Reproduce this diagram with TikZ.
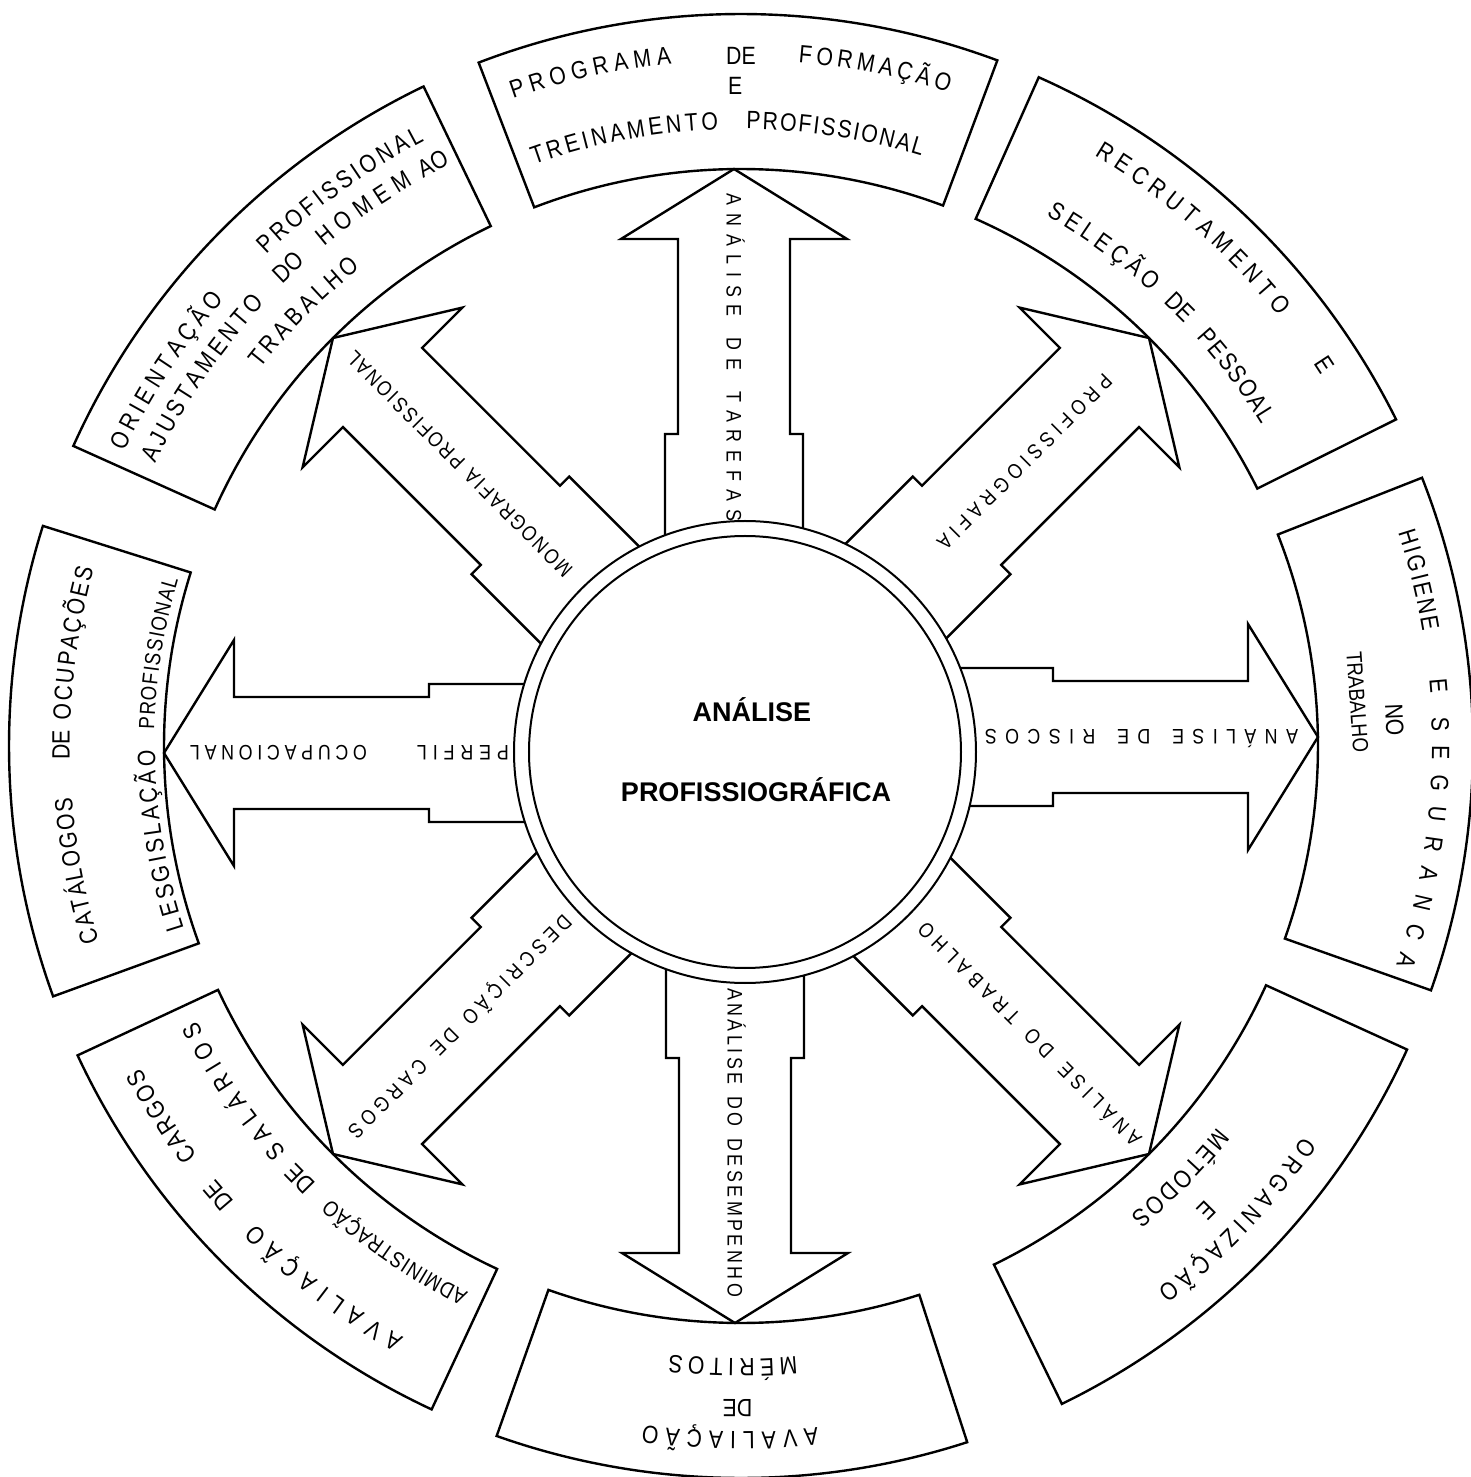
\documentclass[tikz,border=0pt]{standalone}
\usepackage{fontspec}
\usetikzlibrary{calc,decorations.text}

\newfontfamily\fonteletras[FakeStretch=0.85]{Liberation Sans}
\newfontfamily\fontecentral{Liberation Sans}
\newcommand\fonteanel{\fonteletras\fontsize{12.5pt}{14pt}\selectfont}
\newcommand\fonteanelm{\fonteletras\fontsize{11pt}{13pt}\selectfont}
\newcommand\fonteseta{\fonteletras\fontsize{10.5pt}{12pt}\selectfont}
\newcommand\fontecentro{\fontecentral\bfseries\fontsize{13.5pt}{16pt}\selectfont}

\begin{document}
\begin{tikzpicture}[
    x=0.5pt, y=0.5pt,
    linha/.style={line width=1.2pt, line join=miter},
    circulo/.style={line width=1pt},
    textoarco/.style={decorate, decoration={text along path, text={|\fonteanel|#1}, text align={fit to path}}},
    textoarcom/.style={decorate, decoration={text along path, text={|\fonteanelm|#1}, text align={fit to path}}},
    textoseta/.style={decorate, decoration={text along path, text={|\fonteseta|#1}, text align={fit to path}}},
    palavra/.style={font=\fonteanel, inner sep=0pt},
    seta/.pic={
        \draw[linha] (200,-69) -- (312,-69) -- (312,-56) -- (507,-56) -- (507,-113)
            -- (577,0) -- (507,113) -- (507,56) -- (312,56) -- (312,69) -- (200,69);
    }
]
\useasboundingbox (-741,-731) rectangle (730,746);
\coordinate (O) at (0,0);   % 圆环中心
\coordinate (C) at (4,-6);  % 中心圆

% ========== 八个箭头 ==========
\pic[shift={(-7,0)}, rotate=90] {seta};
\pic[rotate=45] {seta};
\pic[shift={(0,9)}, rotate=0] {seta};
\pic[rotate=-45] {seta};
\pic[shift={(-6,0)}, rotate=-90] {seta};
\pic[rotate=-135] {seta};
\pic[shift={(0,-7)}, rotate=180] {seta};
\pic[rotate=135] {seta};

% ========== 中心双圆 ==========
\fill[white] (C) circle (231);
\draw[circulo] (C) circle (231);
\draw[circulo] (C) circle (216);
\node[font=\fontecentro] (tit1) at (11,36) {ANÁLISE};
\node[font=\fontecentro] (tit2) at (15,-44) {PROFISSIOGRÁFICA};

% ========== 外圈：八个扇形框 ==========
\draw[linha] (69.5:577) arc[start angle=69.5, end angle=111, radius=577] -- (111:732) arc[start angle=111, end angle=69.5, radius=732] -- cycle; % 上
\draw[linha] (26.5:577) arc[start angle=26.5, end angle=66, radius=577] -- (66:732) arc[start angle=66, end angle=26.5, radius=732] -- cycle; % 右上
\draw[linha] (-19.5:577) arc[start angle=-19.5, end angle=21.5, radius=577] -- (21.5:732) arc[start angle=21.5, end angle=-19.5, radius=732] -- cycle; % 右
\draw[linha] (-64:577) arc[start angle=-64, end angle=-24.5, radius=577] -- (-24.5:732) arc[start angle=-24.5, end angle=-64, radius=732] -- cycle; % 右下
\draw[linha] (-109.5:577) arc[start angle=-109.5, end angle=-72, radius=577] -- (-72:732) arc[start angle=-72, end angle=-109.5, radius=732] -- cycle; % 下
\draw[linha] (-155:577) arc[start angle=-155, end angle=-115, radius=577] -- (-115:732) arc[start angle=-115, end angle=-155, radius=732] -- cycle; % 左下
\draw[linha] (162.5:577) arc[start angle=162.5, end angle=200, radius=577] -- (200:732) arc[start angle=200, end angle=162.5, radius=732] -- cycle; % 左
\draw[linha] (115.7:577) arc[start angle=115.7, end angle=155.8, radius=577] -- (155.8:732) arc[start angle=155.8, end angle=115.7, radius=732] -- cycle; % 左上

% ========== 扇形框文字 ==========
% 上
\path[textoarco=PROGRAMA] (109.4:686) arc[start angle=109.4, end angle=95.8, radius=686];
\node[palavra] (nDE) at (90:690) {DE};
\path[textoarco=FORMAÇÃO] (85.2:686) arc[start angle=85.2, end angle=72.4, radius=686];
\node[palavra] (nE) at (90.5:660) {E};
\path[textoarco=TREINAMENTO] (109.6:617) arc[start angle=109.6, end angle=92.1, radius=617];
\path[textoarco=PROFISSIONAL] (89.5:617) arc[start angle=89.5, end angle=73, radius=617];
% 右上
\path[textoarco=RECRUTAMENTO] (59.1:688) arc[start angle=59.1, end angle=38.6, radius=688];
\node[palavra, rotate=-56.8] (neE) at (33.2:697) {E};
\path[textoarco=SELEÇÃO] (60.1:612) arc[start angle=60.1, end angle=47.9, radius=612];
\node[palavra, rotate=-45] (neDE) at (45:621) {DE};
\path[textoarco=PESSOAL] (41.9:612) arc[start angle=41.9, end angle=31.7, radius=612];
% 右
\path[textoarco=HIGIENE] (18:691) arc[start angle=18, end angle=9.5, radius=691];
\node[palavra, rotate=-85.1] (eE) at (4.9:700) {E};
\path[textoarco=SEGURANCA] (2.4:691) arc[start angle=2.4, end angle=-18.5, radius=691];
\node[palavra, rotate=-87.7] (eNO) at (2.3:654) {NO};
\node[palavra, font=\fonteanelm, rotate=-85.9] (eTRAB) at (4.1:618) {TRABALHO};
% 右下
\path[textoarco=ORGANIZAÇÃO] (-34.8:685) arc[start angle=-34.8, end angle=-52.6, radius=685];
\node[palavra, rotate=-134.9] (seE) at (-44.9:658) {E};
\path[textoarco=MÉTODOS] (-38.7:610) arc[start angle=-38.7, end angle=-50.3, radius=610];
% 下
\path[textoarco=AVALIAÇÃO] (-83.6:686) arc[start angle=-83.6, end angle=-98.2, radius=686];
\node[palavra, rotate=-180.3] (sDE) at (-90.3:662) {DE};
\path[textoarco=MÉRITOS] (-84.8:613) arc[start angle=-84.8, end angle=-96.7, radius=613];
% 左下
\path[textoarco=AVALIAÇÃO] (240.3:681) arc[start angle=240.3, end angle=224.5, radius=681];
\node[palavra, rotate=130.7] (soDE) at (220.7:690) {DE};
\path[textoarco=CARGOS] (217:681) arc[start angle=217, end angle=208.2, radius=681];
\path[textoarcom=ADMINISTRAÇÃO] (243.5:611) arc[start angle=243.5, end angle=227.8, radius=611];
\node[palavra, rotate=134.5] (soDE2) at (224.5:618) {DE};
\path[textoarco=SALÁRIOS] (221.7:609) arc[start angle=221.7, end angle=206.8, radius=609];
% 左
\path[textoarco=CATÁLOGOS] (196.9:671) arc[start angle=196.9, end angle=184.4, radius=671];
\node[palavra, rotate=89.9] (oDE) at (179.9:680) {DE};
\path[textoarco=OCUPAÇÕES] (177.8:671) arc[start angle=177.8, end angle=164.7, radius=671];
\path[textoarco=LESGISLAÇÃO] (198.1:586) arc[start angle=198.1, end angle=180.4, radius=586];
\path[textoarcom=PROFISSIONAL] (178.4:587) arc[start angle=178.4, end angle=163.5, radius=587];
% 左上
\path[textoarco=ORIENTAÇÃO] (154.5:683) arc[start angle=154.5, end angle=139.2, radius=683];
\path[textoarco=PROFISSIONAL] (134:683) arc[start angle=134, end angle=117.6, radius=683];
\path[textoarco=AJUSTAMENTO] (154.2:650) arc[start angle=154.2, end angle=137.1, radius=650];
\node[palavra, rotate=43.4] (noDO) at (133.4:659) {DO};
\path[textoarco=HOMEM] (129.8:650) arc[start angle=129.8, end angle=120.3, radius=650];
\node[palavra, rotate=27.9] (noAO) at (117.9:659) {AO};
\path[textoarco=TRABALHO] (141.9:611) arc[start angle=141.9, end angle=128.5, radius=611];

% ========== 箭头文字 ==========
\path[textoseta={ANÁLISE DE TAREFAS}] ($(90:552)+(-14.5,0)$) -- ($(90:225)+(-14.5,0)$);
\path[textoseta={PROFISSIOGRAFIA}] ($(45:520)+(135:7.5)$) -- ($(45:282)+(135:7.5)$);
\path[textoseta={ANÁLISE DE RISCOS}] ($(0:557)+(0,16.5)$) -- ($(0:244)+(0,16.5)$);
\path[textoseta={ANÁLISE DO TRABALHO}] ($(-45:561)+(45:7.5)$) -- ($(-45:255)+(45:7.5)$);
\path[textoseta={ANÁLISE DO DESEMPENHO}] ($(-90:242)+(-13.5,0)$) -- ($(-90:551)+(-13.5,0)$);
\path[textoseta={DESCRIÇÃO DE CARGOS}] ($(225:244)+(135:7.5)$) -- ($(225:550)+(135:7.5)$);
\path[textoseta={PERFIL}] ($(180:232)+(0,0.5)$) -- ($(180:324)+(0,0.5)$);
\path[textoseta={OCUPACIONAL}] ($(180:374)+(0,0.5)$) -- ($(180:551)+(0,0.5)$);
\path[textoseta={MONOGRAFIA PROFISSIONAL}] ($(135:244)+(45:7.5)$) -- ($(135:553)+(45:7.5)$);

\end{tikzpicture}
\end{document}
